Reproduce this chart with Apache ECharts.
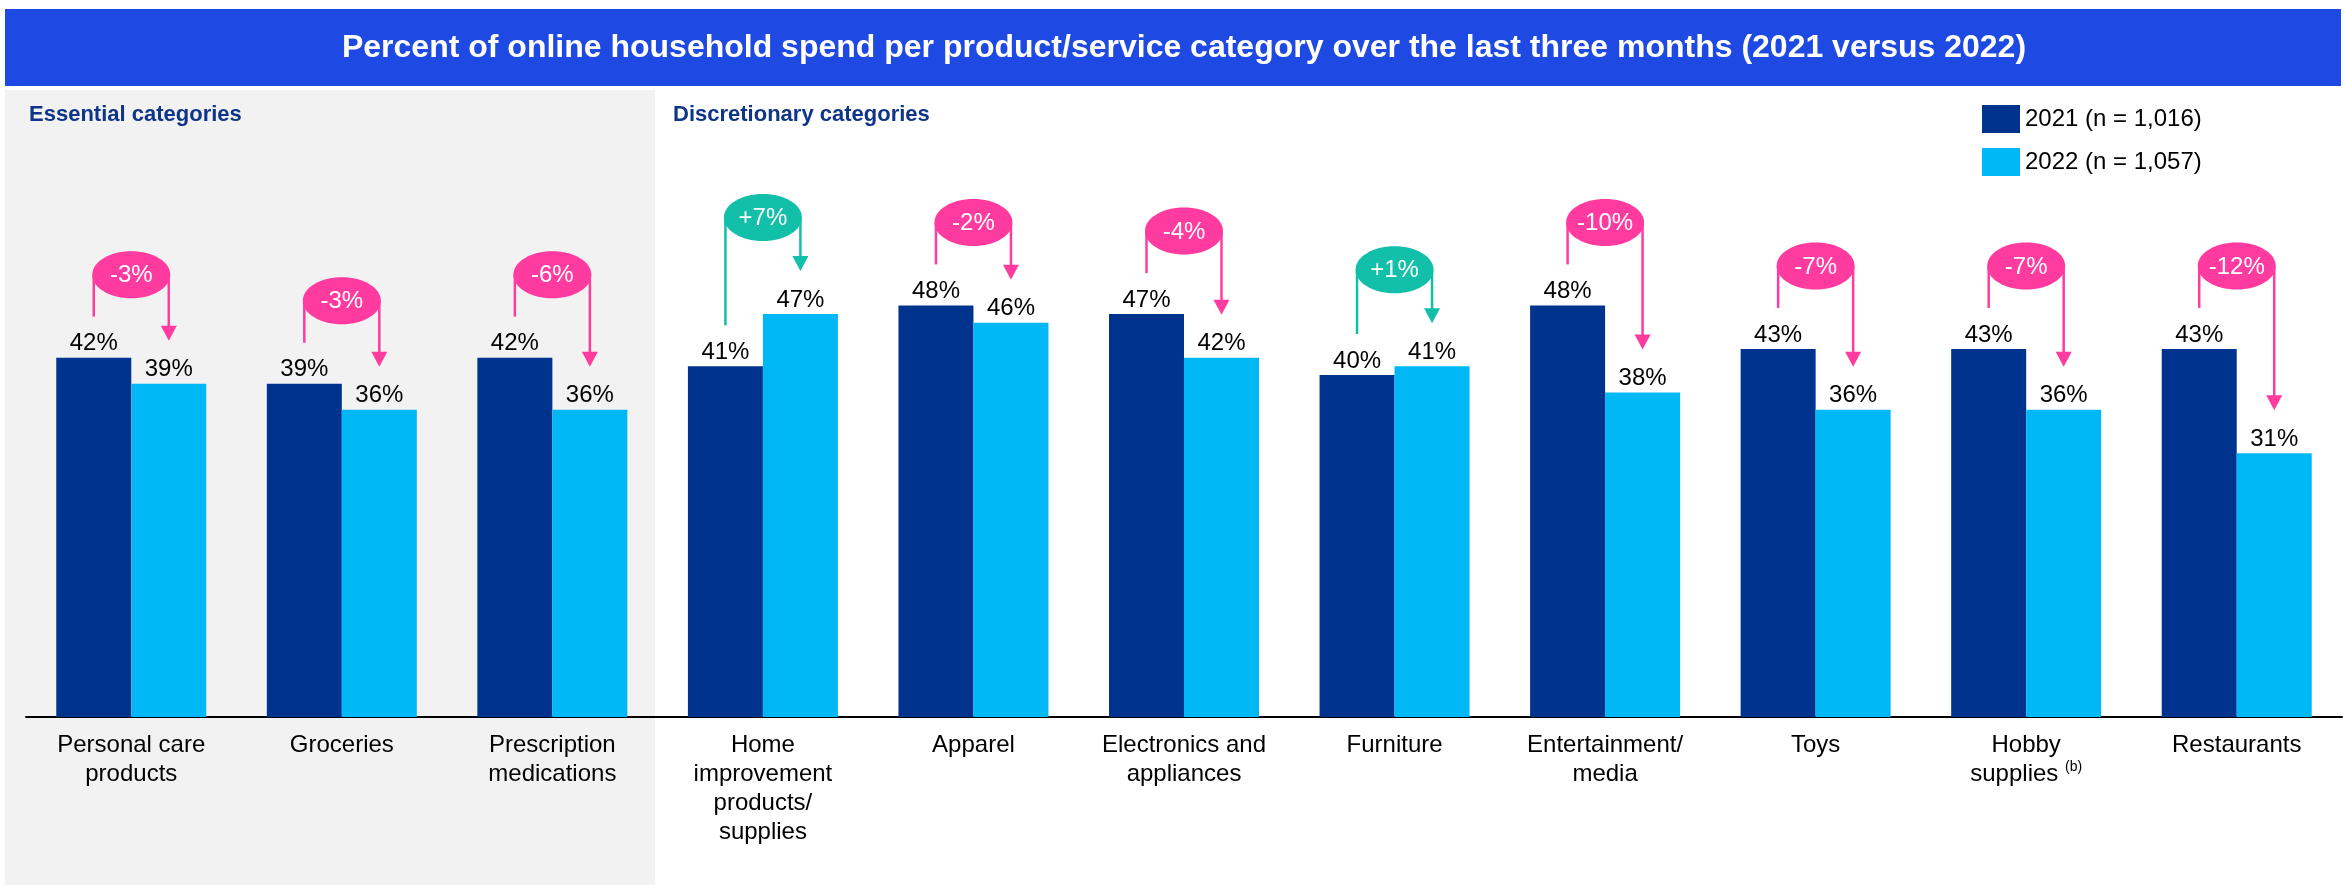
<!DOCTYPE html>
<html>
<head>
<meta charset="utf-8">
<script src="https://cdn.jsdelivr.net/npm/echarts@6/dist/echarts.min.js"></script>
<style>
  html, body { margin: 0; padding: 0; background: #fff; }
  #chart { width: 2344px; height: 885px; }
</style>
</head>
<body>
<div id="chart"></div>
<script>
// Online household spend share by category, 2021 vs 2022
const categories = [
  'Personal care\nproducts', 'Groceries', 'Prescription\nmedications',
  'Home\nimprovement\nproducts/\nsupplies', 'Apparel', 'Electronics and\nappliances',
  'Furniture', 'Entertainment/\nmedia', 'Toys', 'Hobby\nsupplies', 'Restaurants'
];
const categoryNotes = ['', '', '', '', '', '', '', '', '', '(b)', ''];
const values2021 = [42, 39, 42, 41, 48, 47, 40, 48, 43, 43, 43];
const values2022 = [39, 36, 36, 47, 46, 42, 41, 38, 36, 36, 31];
const changes = [-3, -3, -6, 7, -2, -4, 1, -10, -7, -7, -12];
const seriesNames = ['2021 (n = 1,016)', '2022 (n = 1,057)'];
const titleText = 'Percent of online household spend per product/service category over the last three months (2021 versus 2022)';
const groupTitles = ['Essential categories', 'Discretionary categories'];

const FONT = "'Liberation Sans', Arial, Helvetica, sans-serif";
const DARK = '#00338D';
const LIGHT = '#00B8F5';
const PINK = '#FF3BA0';
const TEAL = '#12BFA8';
const BAR_W = 75;

// change bubble + bracket arrow from the 2021 bar to the 2022 bar
function renderChange(params, api) {
  const i = api.value(0);
  const v1 = api.value(1);
  const v2 = api.value(2);
  const d = api.value(3);
  const p1 = api.coord([i, v1]);
  const p2 = api.coord([i, v2]);
  const cx = p1[0];
  const x1 = cx - BAR_W / 2;
  const x2 = cx + BAR_W / 2;
  const up = d > 0;
  const color = up ? TEAL : PINK;
  const lineEnd = p1[1] - 41;
  const tipY = p2[1] - 43;
  const cy = up ? tipY - 53.5 : lineEnd - 42;
  const lw = 2.5;
  return {
    type: 'group',
    children: [
      { type: 'line', shape: { x1: x1, y1: cy, x2: x1, y2: lineEnd }, style: { stroke: color, lineWidth: lw } },
      { type: 'line', shape: { x1: x2, y1: cy, x2: x2, y2: tipY - 14 }, style: { stroke: color, lineWidth: lw } },
      { type: 'polygon', shape: { points: [[x2 - 8, tipY - 15], [x2 + 8, tipY - 15], [x2, tipY]] }, style: { fill: color } },
      { type: 'ellipse', shape: { cx: cx, cy: cy, rx: 39, ry: 23.5 }, style: { fill: color } },
      {
        type: 'text',
        style: {
          text: (up ? '+' : '') + d + '%',
          x: cx, y: cy + 1,
          align: 'center', verticalAlign: 'middle',
          fill: '#fff', font: '24px ' + FONT
        }
      }
    ]
  };
}

const chart = echarts.init(document.getElementById('chart'), null, { renderer: 'canvas' });

const labelStyle = {
  show: true,
  position: 'top',
  distance: 2,
  formatter: '{c}%',
  fontSize: 24,
  fontFamily: FONT,
  color: '#000'
};

chart.setOption({
  animation: false,
  backgroundColor: '#fff',
  textStyle: { fontFamily: FONT },
  graphic: [
    { type: 'rect', z: -10, shape: { x: 5, y: 9, width: 2336, height: 77 }, style: { fill: '#1E49E2' } },
    { type: 'rect', z: -10, shape: { x: 5, y: 90, width: 650, height: 795 }, style: { fill: '#F2F2F2' } },
    { type: 'text', z: 5, style: { text: titleText, x: 1184, y: 48, align: 'center', verticalAlign: 'middle', fill: '#fff', font: 'bold 32px ' + FONT } },
    { type: 'text', z: 5, style: { text: groupTitles[0], x: 29, y: 115, verticalAlign: 'middle', fill: '#0E3589', font: 'bold 22px ' + FONT } },
    { type: 'text', z: 5, style: { text: groupTitles[1], x: 673, y: 115, verticalAlign: 'middle', fill: '#0E3589', font: 'bold 22px ' + FONT } }
  ],
  legend: {
    data: seriesNames,
    orient: 'vertical',
    left: 1977,
    top: 100,
    itemWidth: 38,
    itemHeight: 28,
    itemGap: 15,
    icon: 'rect',
    selectedMode: false,
    textStyle: { fontSize: 24, color: '#000', fontFamily: FONT }
  },
  grid: { left: 26, right: 2, top: 201, bottom: 168 },
  xAxis: {
    type: 'category',
    data: categories,
    axisTick: { show: false },
    axisLine: { lineStyle: { color: '#000', width: 2 } },
    axisLabel: {
      interval: 0,
      margin: 14,
      fontSize: 24,
      lineHeight: 29,
      color: '#000',
      fontFamily: FONT,
      formatter: function (val, idx) {
        return categoryNotes[idx] ? val + ' {sup|' + categoryNotes[idx] + '}' : val;
      },
      rich: {
        sup: { fontSize: 14, lineHeight: 29, verticalAlign: 'top', color: '#000', fontFamily: FONT }
      }
    }
  },
  yAxis: { type: 'value', min: 0.7, max: 60, show: false },
  series: [
    {
      name: seriesNames[0],
      type: 'bar',
      data: values2021,
      barWidth: BAR_W,
      barGap: '0%',
      itemStyle: { color: DARK },
      label: labelStyle
    },
    {
      name: seriesNames[1],
      type: 'bar',
      data: values2022,
      barWidth: BAR_W,
      barGap: '0%',
      itemStyle: { color: LIGHT },
      label: labelStyle
    },
    {
      type: 'custom',
      name: 'change',
      z: 5,
      renderItem: renderChange,
      data: categories.map(function (c, i) { return [i, values2021[i], values2022[i], changes[i]]; })
    }
  ]
});
</script>
</body>
</html>
